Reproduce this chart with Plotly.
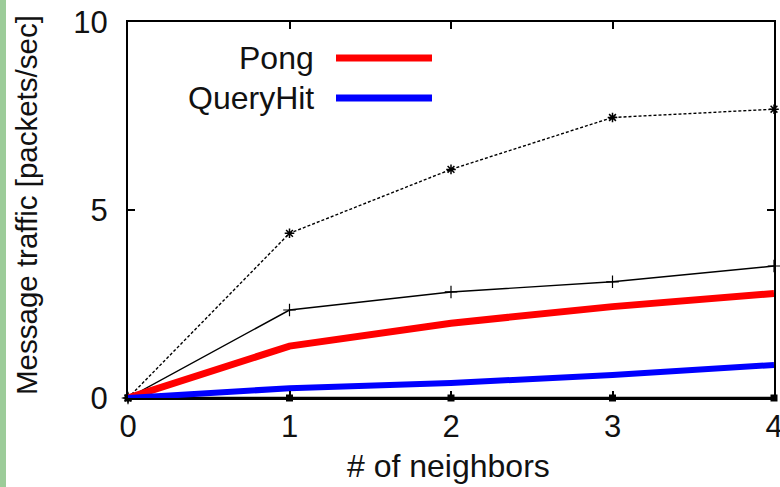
import plotly.graph_objects as go

neighbors = [0, 1, 2, 3, 4]
total_dotted = [0, 4.38, 6.08, 7.46, 7.68]
total_solid = [0, 2.34, 2.82, 3.09, 3.51]
pong = [0, 1.38, 1.99, 2.43, 2.78]
queryhit = [0, 0.26, 0.40, 0.61, 0.88]
baseline = [0, 0, 0, 0, 0]

legend_names = ["Pong", "QueryHit"]
legend_colors = ["#ff0000", "#0000ff"]

W, H = 780, 487
L, R, T, B = 128, 6, 22, 89
pw, ph = W - L - R, H - T - B

def px_x(p):
    return (p - L) / pw

def px_y(p):
    return (H - B - p) / ph

FONT = "Liberation Sans, Arial, sans-serif"

fig = go.Figure()
fig.add_trace(go.Scatter(x=neighbors, y=baseline, mode="lines+markers",
                         line=dict(color="black", width=2.5),
                         marker=dict(symbol="square", size=7, color="black"),
                         cliponaxis=False, showlegend=False))
fig.add_trace(go.Scatter(x=neighbors, y=total_dotted, mode="lines+markers",
                         line=dict(color="black", width=1.4, dash="3px,2px"),
                         marker=dict(symbol="asterisk-open", size=8, color="black",
                                     line=dict(width=1.5, color="black")),
                         cliponaxis=False, showlegend=False))
fig.add_trace(go.Scatter(x=neighbors, y=total_solid, mode="lines+markers",
                         line=dict(color="black", width=1.4),
                         marker=dict(symbol="cross-thin-open", size=9, color="black",
                                     line=dict(width=1.2, color="black")),
                         cliponaxis=False, showlegend=False))
fig.add_trace(go.Scatter(x=neighbors, y=pong, mode="lines", name=legend_names[0],
                         line=dict(color=legend_colors[0], width=7),
                         cliponaxis=False, showlegend=False))
fig.add_trace(go.Scatter(x=neighbors, y=queryhit, mode="lines", name=legend_names[1],
                         line=dict(color=legend_colors[1], width=6),
                         cliponaxis=False, showlegend=False))

shapes = [dict(type="rect", xref="paper", yref="paper",
               x0=px_x(0), x1=px_x(6), y0=px_y(H), y1=px_y(0),
               fillcolor="#9ccc99", line=dict(width=0), layer="below")]
annotations = []
for i, (name, col) in enumerate(zip(legend_names, legend_colors)):
    yc = 58 + 40 * i
    shapes.append(dict(type="line", xref="paper", yref="paper",
                       x0=px_x(336), x1=px_x(432), y0=px_y(yc), y1=px_y(yc),
                       line=dict(color=col, width=7)))
    annotations.append(dict(text=name, xref="paper", yref="paper",
                            x=px_x(316), y=px_y(yc), xanchor="right", yanchor="middle",
                            showarrow=False, font=dict(size=32, color="#111", family=FONT)))

annotations.append(dict(text="Message traffic [packets/sec]", xref="paper", yref="paper",
                        x=px_x(26), y=px_y(205), textangle=-90, xanchor="center",
                        yanchor="middle", showarrow=False,
                        font=dict(size=29.5, color="#111", family=FONT)))
annotations.append(dict(text="# of neighbors", xref="paper", yref="paper",
                        x=px_x(448), y=px_y(466), xanchor="center", yanchor="middle",
                        showarrow=False, font=dict(size=32, color="#111", family=FONT)))

axis_common = dict(showline=True, linecolor="black", linewidth=2, mirror="ticks",
                   ticks="inside", ticklen=7, tickwidth=2, tickcolor="black",
                   showgrid=False, zeroline=False, ticklabeloverflow="allow",
                   automargin=False,
                   tickfont=dict(size=31, color="#111", family=FONT))

fig.update_layout(
    width=W, height=H,
    margin=dict(l=L, r=R, t=T, b=B, autoexpand=False),
    paper_bgcolor="white", plot_bgcolor="white",
    xaxis=dict(range=[0, 4], tickvals=neighbors, ticklabelstandoff=0, **axis_common),
    yaxis=dict(range=[0, 10], tickvals=[0, 5, 10], ticklabelstandoff=12, **axis_common),
    shapes=shapes, annotations=annotations, showlegend=False,
)

fig.write_html("out.html")
